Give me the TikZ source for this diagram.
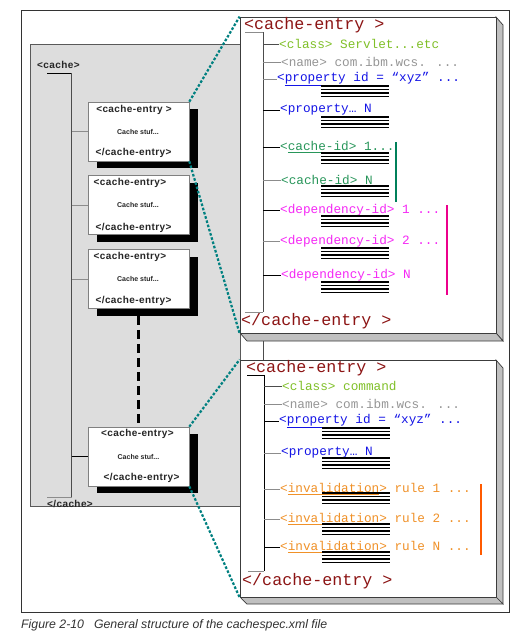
\documentclass[tikz,border=0pt]{standalone}
\usepackage{fontspec}
\setmainfont{Liberation Sans}
\newfontfamily\monof{Liberation Mono}
\newfontfamily\boxf{Liberation Sans}[LetterSpace=4]
\usetikzlibrary{calc,shadows}
\definecolor{maroonx}{RGB}{140,20,20}
\definecolor{classc}{RGB}{128,192,40}
\definecolor{namec}{RGB}{150,150,150}
\definecolor{propc}{RGB}{20,20,230}
\definecolor{cidc}{RGB}{40,150,90}
\definecolor{cidbar}{RGB}{0,128,90}
\definecolor{depc}{RGB}{245,40,245}
\definecolor{invc}{RGB}{240,145,40}
\definecolor{invbar}{RGB}{255,90,0}
\definecolor{tealx}{RGB}{0,128,128}
\definecolor{bgray}{RGB}{221,221,221}
\definecolor{bevel}{RGB}{192,192,192}
\definecolor{edge}{RGB}{60,60,60}
\tikzset{
  ebox/.style={draw=gray, fill=white, line width=0.6pt, minimum width=101pt, minimum height=59pt, inner sep=0pt,
    general shadow={fill=black, shadow xshift=8.5pt, shadow yshift=-7pt}},
  btxt/.style={inner sep=0pt, font=\boxf\bfseries\fontsize{10}{12}\selectfont, text=black!85},
  stxt/.style={inner sep=0pt, font=\bfseries\fontsize{7}{8}\selectfont, text=black!85},
  head/.style={anchor=west, inner sep=0pt, font=\monof\fontsize{16.7}{18}\selectfont, text=maroonx},
  item/.style={anchor=west, inner sep=0pt, font=\monof\fontsize{12.7}{14}\selectfont},
  treeln/.style={line width=0.8pt, draw=black!70},
  brg/.style={line width=0.8pt, draw=black!45},
  brk/.style={line width=0.8pt, draw=black},
  teal/.style={draw=tealx, line width=2.2pt, dash pattern=on 2.6pt off 1.8pt},
  panel/.style={draw=edge, fill=white, line width=0.8pt, inner sep=0pt},
  lines/.pic={\foreach \k in {0,3.5,7,10.5} \draw[line width=1.3pt] (0,\k) -- (68,\k);}
}
\begin{document}
\begin{tikzpicture}[x=1pt,y=-1pt]
\useasboundingbox (0,0) rectangle (521,640);
\fill[white] (0,0) rectangle (521,640);
% outer frame
\draw[draw=black!80, line width=0.8pt] (21,10) rectangle (509,612);
% gray region
\filldraw[fill=bgray, draw=black!65, line width=0.7pt] (30,44) rectangle (240,506);
% left tree
\node[btxt, anchor=west] (cache) at (37,65) {<cache>};
\node[btxt, anchor=west] (ecache) at (47,504) {</cache>};
\coordinate (ltop) at (71.5,73);
\coordinate (lbot) at (71.5,497);
\draw[treeln, draw=black] (47,73) -- (ltop);
\draw[treeln] (ltop) -- (lbot);
\draw[brg] (47,497) -- (lbot);
% boxes
\node[ebox] (b1) at (138.5,131.5) {};
\node[ebox] (b2) at (138.5,205) {};
\node[ebox] (b3) at (138.5,279) {};
\node[ebox] (b4) at (138.5,456.5) {};
\node[btxt] (b1t) at (134,110) {<cache-entry >};
\node[stxt] (b1m) at (138,132) {Cache stuf...};
\node[btxt] (b1b) at (133.5,153) {</cache-entry>};
\node[btxt] (b2t) at (130,183) {<cache-entry>};
\node[stxt] (b2m) at (138,205) {Cache stuf...};
\node[btxt] (b2b) at (133.5,228) {</cache-entry>};
\node[btxt] (b3t) at (130,257) {<cache-entry>};
\node[stxt] (b3m) at (138,279) {Cache stuf...};
\node[btxt] (b3b) at (133.5,301) {</cache-entry>};
\node[btxt] (b4t) at (137.5,434) {<cache-entry>};
\node[stxt] (b4m) at (138.5,457) {Cache stuf...};
\node[btxt] (b4b) at (141.5,478) {</cache-entry>};
\draw[brg] (b1.west -| ltop) -- (b1.west);
\draw[brg] (b2.west -| ltop) -- (b2.west);
\draw[brg] (b3.west -| ltop) -- (b3.west);
\draw[brk] (b4.west -| ltop) -- (b4.west);
\draw[line width=2.6pt, dash pattern=on 9pt off 5pt] ($(b3.south)+(0,7)$) -- (b4.north);
% top panel
\filldraw[fill=bevel, draw=edge, line width=0.7pt] (496,17) -- (503,25) -- (503,341) -- (496,333) -- cycle;
\filldraw[fill=bevel, draw=edge, line width=0.7pt] (240,333) -- (496,333) -- (503,341) -- (247,341) -- cycle;
\node[panel, minimum width=256pt, minimum height=316pt] (pa) at (368,175) {};
% bottom panel
\filldraw[fill=bevel, draw=edge, line width=0.7pt] (496,360) -- (503,368) -- (503,604) -- (496,597) -- cycle;
\filldraw[fill=bevel, draw=edge, line width=0.7pt] (240,597) -- (496,597) -- (503,604) -- (247,604) -- cycle;
\node[panel, minimum width=256pt, minimum height=237pt] (pb) at (368,478.5) {};
\draw[treeln] (263,341) -- (263,360);
% teal connectors
\draw[teal] (b1.north east) -- (pa.north west);
\draw[teal] (b1.south east) -- (pa.south west);
\draw[teal] (b4.north east) -- (pb.north west);
\draw[teal] (b4.south east) -- (pb.south west);
% top panel content
\node[head] (ha) at (244,25) {<cache-entry >};
\node[head] (hae) at (241,321) {</cache-entry >};
\coordinate (ta) at (263,32);
\coordinate (tab) at (263,312);
\draw[brg] (245,32) -- (ta);
\draw[treeln] (ta) -- (tab);
\draw[brg] (245,312) -- (tab);
\node[item, text=classc] (a1) at (279,44) {<class> Servlet...etc};
\node[item, text=namec] (a2) at (281,62) {<name> com.ibm.wcs. ...};
\node[item, text=propc] (a3) at (277,79) {<\underline{property id} = “xyz” ...};
\node[item, text=propc] (a4) at (280,110) {<property… N};
\node[item, text=cidc] (a5) at (280,147) {<\underline{cache-id}> 1...};
\node[item, text=cidc] (a6) at (281,180) {<cache-id> N};
\node[item, text=depc] (a7) at (280,210) {<dependency-id> 1 ...};
\node[item, text=depc] (a8) at (280,241) {<dependency-id> 2 ...};
\node[item, text=depc] (a9) at (281,275) {<dependency-id> N};
\draw[brg, draw=black!70] (a1.west -| ta) -- (a1.west);
\draw[brg] (a2.west -| ta) -- (a2.west);
\draw[brg] (a3.west -| ta) -- (a3.west);
\draw[brk] (a4.west -| ta) -- (a4.west);
\draw[brk] (a5.west -| ta) -- (a5.west);
\draw[brg] (a6.west -| ta) -- (a6.west);
\draw[brk] (a7.west -| ta) -- (a7.west);
\draw[brg] (a8.west -| ta) -- (a8.west);
\draw[brk] (a9.west -| ta) -- (a9.west);
\foreach \yy in {86,117,153,186,216,248,282} \pic at (321,\yy) {lines};
\draw[draw=cidbar, line width=1.5pt] (396,142) -- (396,202);
\draw[draw=magenta, line width=2.6pt] (447,205) -- (447,295);
% bottom panel content
\node[head] (hb) at (246,368) {<cache-entry >};
\node[head] (hbe) at (242,581) {</cache-entry >};
\coordinate (tb) at (264,375);
\coordinate (tbb) at (264,571);
\draw[brk] (247,375) -- (tb);
\draw[treeln, draw=black] (tb) -- (tbb);
\draw[brg] (248,571) -- (tbb);
\node[item, text=classc] (c1) at (282,386) {<class> command};
\node[item, text=namec] (c2) at (282,404) {<name> com.ibm.wcs. ...};
\node[item, text=propc] (c3) at (279,421) {<\underline{property id} = “xyz” ...};
\node[item, text=propc] (c4) at (281,453) {<property… N};
\node[item, text=invc] (c5) at (280,489) {<\underline{invalidation}> rule 1 ...};
\node[item, text=invc] (c6) at (280,519) {<\underline{invalidation}> rule 2 ...};
\node[item, text=invc] (c7) at (280,547) {<\underline{invalidation}> rule N ...};
\draw[brg, draw=black!70] (c1.west -| tb) -- (c1.west);
\draw[brg] (c2.west -| tb) -- (c2.west);
\draw[brk] (c3.west -| tb) -- (c3.west);
\draw[brg] (c4.west -| tb) -- (c4.west);
\draw[brg] (c5.west -| tb) -- (c5.west);
\draw[brg] (c6.west -| tb) -- (c6.west);
\draw[brk] (c7.west -| tb) -- (c7.west);
\foreach \yy in {428,458,493,524,552} \pic at (322,\yy) {lines};
\draw[draw=invbar, line width=2pt] (481,484) -- (481,555);
% caption
\node[anchor=west, inner sep=0pt, font=\fontsize{12.3}{14}\selectfont\itshape, text=black!80] (cap) at (21,625) {Figure 2-10\hspace{10pt}General structure of the cachespec.xml file};
\end{tikzpicture}
\end{document}
